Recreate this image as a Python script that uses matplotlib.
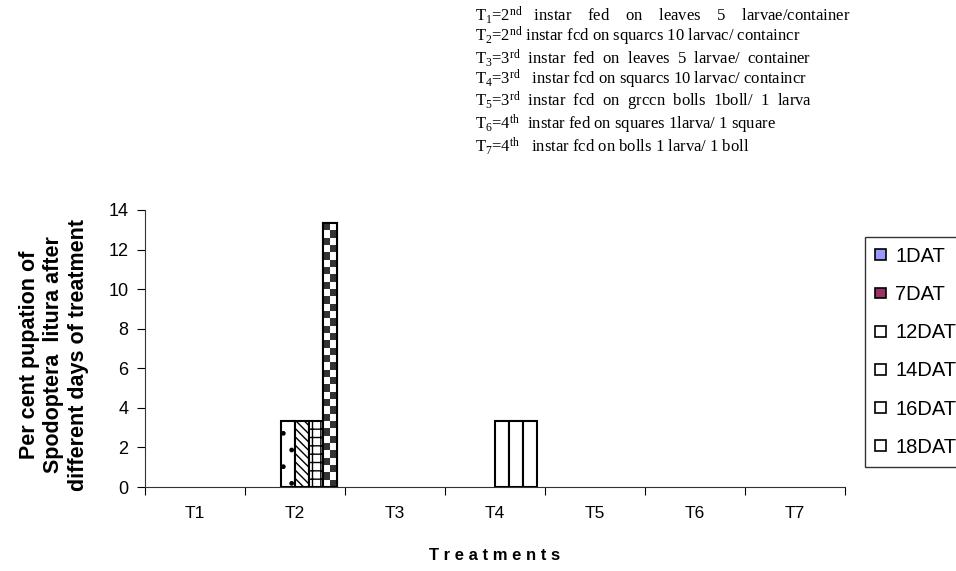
import matplotlib
matplotlib.use("Agg")
import matplotlib.pyplot as plt
import numpy as np

# data
treatments = ["T1", "T2", "T3", "T4", "T5", "T6", "T7"]
series_names = ["1DAT", "7DAT", "12DAT", "14DAT", "16DAT", "18DAT"]
dat1 = [0, 0, 0, 0, 0, 0, 0]
dat7 = [0, 0, 0, 0, 0, 0, 0]
dat12 = [0, 3.33, 0, 0, 0, 0, 0]
dat14 = [0, 3.33, 0, 3.33, 0, 0, 0]
dat16 = [0, 3.33, 0, 3.33, 0, 0, 0]
dat18 = [0, 13.33, 0, 3.33, 0, 0, 0]
values = [dat1, dat7, dat12, dat14, dat16, dat18]

notes = [
    r"T$_1$=2$^{\rm nd}$   instar    fed    on    leaves    5    larvae/container",
    r"T$_2$=2$^{\rm nd}$ instar fcd on squarcs 10 larvac/ containcr",
    r"T$_3$=3$^{\rm rd}$  instar  fed  on  leaves  5  larvae/  container",
    r"T$_4$=3$^{\rm rd}$   instar fcd on squarcs 10 larvac/ containcr",
    r"T$_5$=3$^{\rm rd}$  instar  fcd  on  grccn  bolls  1boll/  1  larva",
    r"T$_6$=4$^{\rm th}$  instar fed on squares 1larva/ 1 square",
    r"T$_7$=4$^{\rm th}$   instar fcd on bolls 1 larva/ 1 boll",
]

# styling
colors = ["#9999FF", "#993366", "white", "white", "white", "white"]
hatches = [None, None, ".", "\\\\\\\\", "++", "checker"]
patterned = [1]  # only T2 bars carry fill patterns

plt.rcParams["font.family"] = ["Liberation Sans", "DejaVu Sans"]
plt.rcParams["hatch.linewidth"] = 1.0
plt.rcParams["mathtext.fontset"] = "custom"
plt.rcParams["mathtext.rm"] = "Liberation Serif"
plt.rcParams["mathtext.it"] = "Liberation Serif:italic"

fig = plt.figure(figsize=(9.56, 5.71), dpi=100)
ax = fig.add_axes([145 / 956, 1 - 487 / 571, 700 / 956, 277 / 571])

x = np.arange(len(treatments))
w = 0.14
for j, vals in enumerate(values):
    offs = (j - 2.5) * w
    bars = ax.bar(x + offs, vals, w, color=colors[j], edgecolor="black",
                  linewidth=1.5, zorder=2)
    for i, b in enumerate(bars):
        if vals[i] == 0:
            b.set_visible(False)
            continue
        if i not in patterned or hatches[j] is None:
            continue
        if hatches[j] == "checker":
            nrows = int(round(vals[i] / 0.37))
            board = np.indices((nrows, 2)).sum(axis=0) % 2
            im = ax.imshow(board, cmap="gray", vmin=-0.25, vmax=1,
                           interpolation="nearest", aspect="auto",
                           extent=(b.get_x(), b.get_x() + b.get_width(), 0, b.get_height()),
                           zorder=2.5)
            im.set_clip_path(b)
            ax.bar(b.get_x() + b.get_width() / 2, vals[i], w, fill=False,
                   edgecolor="black", linewidth=1.5, zorder=3)
        else:
            b.set_hatch(hatches[j])

ax.set_xlim(-0.5, 6.5)
ax.set_ylim(0, 14)
ax.set_aspect("auto")
ax.set_yticks(range(0, 15, 2))
ax.set_xticks(np.arange(-0.5, 7, 1))
ax.set_xticklabels([])
ax.set_xticks(x, minor=True)
ax.set_xticklabels(treatments, minor=True)
ax.tick_params(axis="x", which="minor", length=0, pad=14, labelsize=12.5)
ax.tick_params(axis="x", which="major", length=6, direction="out")
ax.tick_params(axis="y", length=6, direction="out", labelsize=13, pad=6)
for s in ["top", "right"]:
    ax.spines[s].set_visible(False)
for s in ["left", "bottom"]:
    ax.spines[s].set_color("#333333")

fig.text(54 / 956, 1 - 355 / 571,
         "Per cent pupation of\nSpodoptera  litura after\ndifferent days of treatment",
         rotation=90, ha="center", va="center", fontsize=15.5, fontweight="bold",
         linespacing=1.2, multialignment="center")
fig.text(495 / 956, 1 - 556 / 571, "T r e a t m e n t s", ha="center", va="center",
         fontsize=12, fontweight="bold")

# the treatment key as one block of text
fig.text(475 / 956, 1 - 4 / 571, "\n".join(notes), ha="left", va="top",
         fontsize=12, linespacing=0.95, multialignment="left",
         family=["Liberation Serif", "DejaVu Serif"])

handles = [plt.Rectangle((0, 0), 1, 1, facecolor=c, edgecolor="black", linewidth=1.2)
           for c in colors]
leg = fig.legend(handles, series_names, loc="upper left",
                 bbox_to_anchor=(865 / 956, 1 - 237 / 571), frameon=True,
                 fancybox=False, edgecolor="black", fontsize=14.5, handlelength=0.55,
                 handleheight=0.45, handletextpad=0.45, labelspacing=0.95,
                 borderpad=0.5, borderaxespad=0)
leg.get_frame().set_linewidth(1.0)

fig.savefig("out.png", dpi=100)
